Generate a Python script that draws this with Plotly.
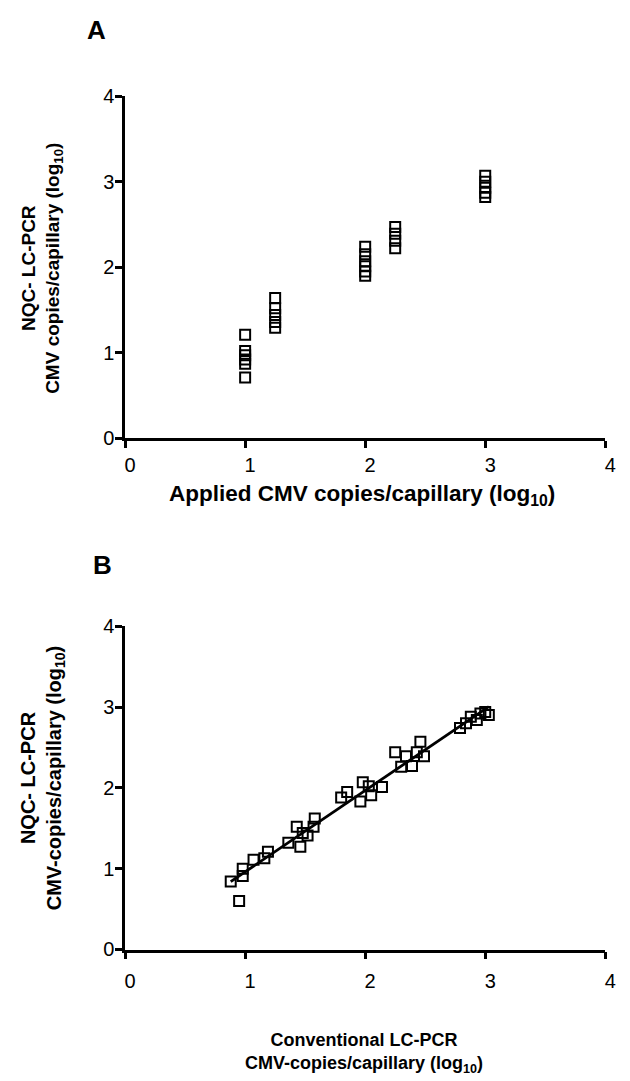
import numpy as np
import plotly.graph_objects as go

# ---------------- Panel A data ----------------
a_applied = [1.0]*6 + [1.25]*5 + [2.0]*6 + [2.25]*4 + [3.0]*5
a_measured = [1.21, 1.02, 0.97, 0.92, 0.87, 0.71,
              1.64, 1.52, 1.44, 1.36, 1.29,
              2.24, 2.15, 2.07, 2.01, 1.95, 1.90,
              2.47, 2.39, 2.31, 2.22,
              3.07, 3.00, 2.93, 2.87, 2.82]

# ---------------- Panel B data ----------------
b_conventional = [0.88, 0.95, 0.98, 0.98, 1.07, 1.16, 1.19,
                  1.36, 1.43, 1.46, 1.48, 1.52, 1.57, 1.58,
                  1.80, 1.85, 1.96, 1.98, 2.03, 2.05, 2.14,
                  2.25, 2.30, 2.34, 2.39, 2.43, 2.46, 2.49,
                  2.79, 2.84, 2.88, 2.93, 2.96, 3.00, 3.03]
b_nqc = [0.84, 0.60, 1.00, 0.91, 1.11, 1.13, 1.21,
         1.32, 1.52, 1.27, 1.44, 1.41, 1.52, 1.62,
         1.88, 1.95, 1.83, 2.07, 2.02, 1.91, 2.01,
         2.44, 2.26, 2.39, 2.27, 2.44, 2.57, 2.39,
         2.74, 2.80, 2.88, 2.84, 2.92, 2.94, 2.90]

tick_vals = [0, 1, 2, 3, 4]
tick_text = ["0", "1", "2", "3", "4"]

FONT = "Liberation Sans, Arial, sans-serif"
W, H = 630, 1081

slope, intercept = np.polyfit(b_conventional, b_nqc, 1)
fx = np.array([min(b_conventional), max(b_conventional)])
fy = slope * fx + intercept

marker = dict(symbol="square-open", size=10, color="black",
              line=dict(width=2, color="black"))

fig = go.Figure()
fig.add_trace(go.Scatter(x=a_applied, y=a_measured, mode="markers",
                         marker=marker, xaxis="x", yaxis="y",
                         showlegend=False, cliponaxis=False))
fig.add_trace(go.Scatter(x=fx, y=fy, mode="lines",
                         line=dict(color="black", width=2.8),
                         xaxis="x2", yaxis="y2", showlegend=False))
fig.add_trace(go.Scatter(x=b_conventional, y=b_nqc, mode="markers",
                         marker=marker, xaxis="x2", yaxis="y2",
                         showlegend=False, cliponaxis=False))

xdom = [126.5 / W, 616 / W]
ya_dom = [1 - 436 / H, 1 - 87 / H]
yb_dom = [1 - 958 / H, 1 - 628 / H]

axis_common = dict(range=[0, 4], tickvals=tick_vals, ticktext=tick_text,
                   showgrid=False, zeroline=False, showline=True,
                   linecolor="black", linewidth=2.5, ticks="outside",
                   ticklen=7, tickwidth=2.5, tickcolor="black",
                   tickfont=dict(family=FONT, size=20, color="black"),
                   fixedrange=True)

fig.update_layout(
    width=W, height=H,
    margin=dict(l=0, r=0, t=0, b=0),
    paper_bgcolor="white", plot_bgcolor="white",
    xaxis=dict(domain=xdom, anchor="y", ticklabelstandoff=0, ticklabelshift=5, **axis_common),
    yaxis=dict(domain=ya_dom, anchor="x", ticklabelstandoff=-3, **axis_common),
    xaxis2=dict(domain=xdom, anchor="y2", ticklabelstandoff=5, ticklabelshift=5, **axis_common),
    yaxis2=dict(domain=yb_dom, anchor="x2", ticklabelstandoff=-3, **axis_common),
)

def tf(size):
    return dict(family=FONT, size=size, color="black")

ann = [
    dict(text="<b>A</b>", x=97 / W, y=1 - 19 / H, font=tf(26)),
    dict(text="<b>B</b>", x=103 / W, y=1 - 566 / H, font=tf(26)),
    dict(text="<b>NQC- LC-PCR<br>CMV copies/capillary (log<sub>10</sub>)</b>",
         x=42 / W, y=1 - 263 / H, textangle=-90, font=tf(19)),
    dict(text="<b>Applied CMV copies/capillary (log<sub>10</sub>)</b>",
         x=368 / W, y=1 - 494 / H, font=tf(22.5)),
    dict(text="<b>NQC- LC-PCR<br>CMV-copies/capillary (log<sub>10</sub>)</b>",
         x=42 / W, y=1 - 783 / H, textangle=-90, font=tf(20)),
    dict(text="<b>Conventional LC-PCR<br>CMV-copies/capillary (log<sub>10</sub>)</b>",
         x=370 / W, y=1 - 1064 / H, font=tf(18)),
]
for a in ann:
    a.update(xref="paper", yref="paper", showarrow=False,
             xanchor="center", yanchor="middle")
fig.update_layout(annotations=ann)

fig.write_html("out.html")
